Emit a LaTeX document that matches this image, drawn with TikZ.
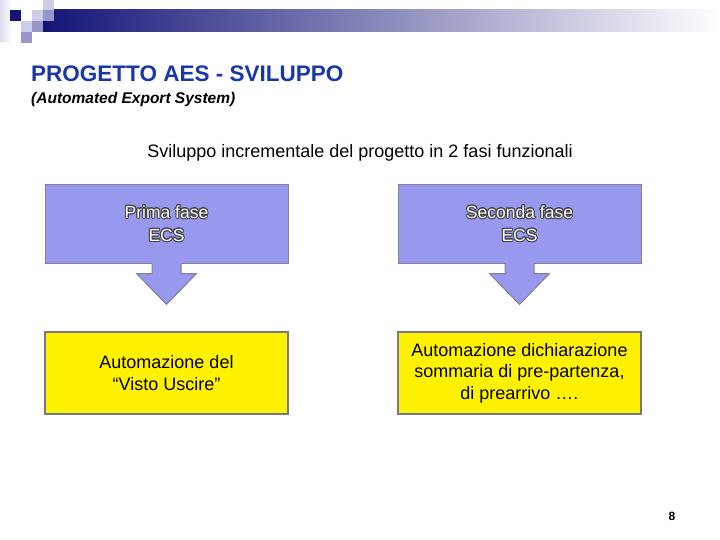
\documentclass[tikz,border=0pt]{standalone}
\usepackage{fontspec}
\setmainfont{Liberation Sans}
\usepackage{contour}
\contourlength{0.9pt}
\usetikzlibrary{calc}
\definecolor{navy}{RGB}{20,20,120}
\definecolor{lav}{RGB}{205,205,232}
\definecolor{lavmid}{RGB}{150,150,200}
\definecolor{titleblue}{RGB}{25,55,170}
\definecolor{boxblue}{RGB}{152,152,238}
\definecolor{boxline}{RGB}{128,128,150}
\definecolor{yline}{RGB}{120,120,130}
\tikzset{
  bluebox/.style={draw=boxline, line width=1pt, fill=boxblue, minimum width=243pt, minimum height=78pt, inner sep=0pt, align=center, font=\fontsize{17.5}{24}\selectfont},
  yellowbox/.style={draw=yline, line width=1.2pt, fill=yellow, minimum width=243pt, minimum height=82pt, inner sep=0pt, align=center, font=\fontsize{18}{21.5}\selectfont},
  downarrow/.style={draw=boxline, line width=1pt, line join=miter}
}
\newcommand{\whiteout}[1]{\contour{black!75}{\textcolor{white}{#1}}}
\begin{document}
\begin{tikzpicture}[x=1pt,y=-1pt]
\useasboundingbox (0,0) rectangle (720,540);
% header decoration
\shade[left color=lav!70, right color=white] (0,0) rectangle (12,42);
\shade[left color=navy, right color=white] (43,10) rectangle (720,32);
\fill[navy] (10,10) rectangle (21,21);
\fill[lav] (43,0) rectangle (54,10);
\fill[lav] (32,10) rectangle (43,21);
\fill[lavmid] (43,10) rectangle (54,21);
\fill[lav] (21,21) rectangle (32,32);
\fill[lavmid] (32,21) rectangle (43,32);
\fill[lavmid] (21,32) rectangle (32,43);
% titles
\node[anchor=base west, inner sep=0pt, text=titleblue, font=\fontsize{22.5}{26}\selectfont\bfseries] (title) at (31,82) {PROGETTO AES - SVILUPPO};
\node[anchor=base west, inner sep=0pt, font=\fontsize{15.5}{18}\selectfont\bfseries\itshape] (subtitle) at (31,104) {(Automated Export System)};
\node[anchor=base, inner sep=0pt, font=\fontsize{18}{20}\selectfont] (intro) at (360,158) {Sviluppo incrementale del progetto in 2 fasi funzionali};
% blue boxes
\node[bluebox] (b1) at (166.5,224) {\whiteout{Prima fase}\\[-1pt]\whiteout{ECS}};
\node[bluebox] (b2) at (519.5,224) {\whiteout{Seconda fase}\\[-1pt]\whiteout{ECS}};
% arrows
\foreach \b in {b1,b2}{
  \fill[boxblue] ($(\b.south)+(-14.5,-3)$) -- ($(\b.south)+(-14.5,10)$) -- ($(\b.south)+(-30,10)$) -- ($(\b.south)+(0,41)$) -- ($(\b.south)+(30,10)$) -- ($(\b.south)+(14.5,10)$) -- ($(\b.south)+(14.5,-3)$) -- cycle;
  \draw[downarrow] ($(\b.south)+(-14.5,0)$) -- ($(\b.south)+(-14.5,10)$) -- ($(\b.south)+(-30,10)$) -- ($(\b.south)+(0,41)$) -- ($(\b.south)+(30,10)$) -- ($(\b.south)+(14.5,10)$) -- ($(\b.south)+(14.5,0)$);
}
% yellow boxes
\node[yellowbox] (y1) at (166.5,373) {Automazione del\\“Visto Uscire”};
\node[yellowbox] (y2) at (519.5,373) {Automazione dichiarazione\\sommaria di pre-partenza,\\di prearrivo ….};
% page number
\node[inner sep=0pt, font=\fontsize{12}{14}\selectfont\bfseries] (pg) at (672,516) {8};
\end{tikzpicture}
\end{document}
